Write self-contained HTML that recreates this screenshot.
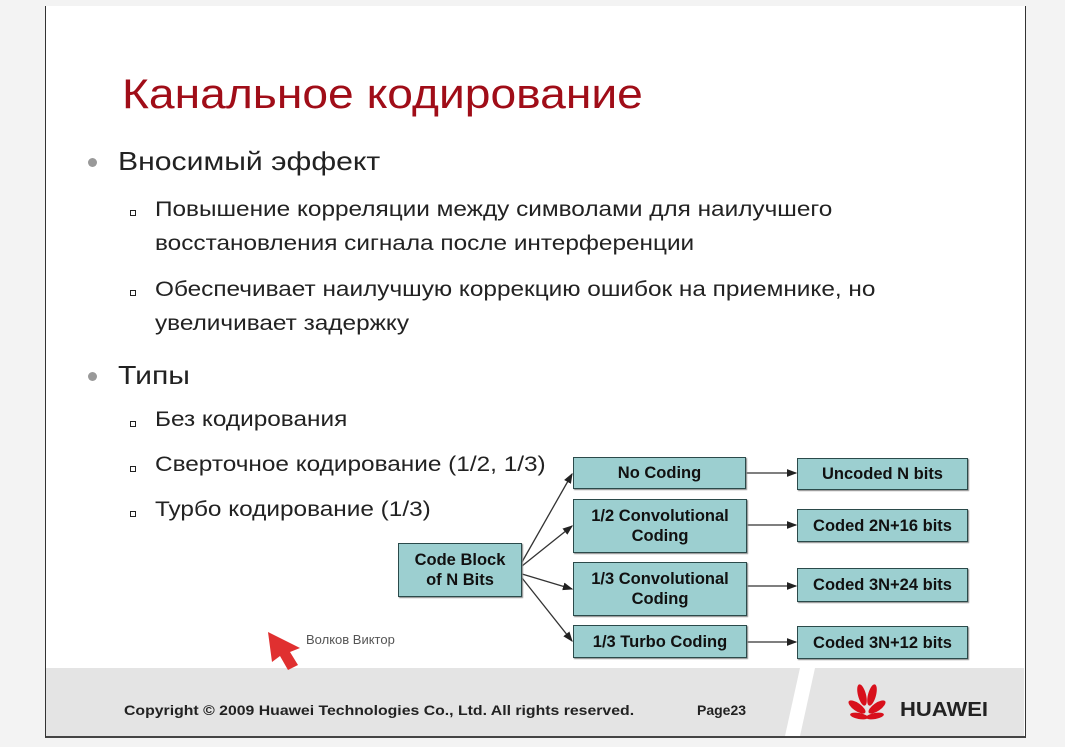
<!DOCTYPE html>
<html><head><meta charset="utf-8"><style>
body{margin:0;width:1065px;height:747px;background:#f3f3f3;position:relative;overflow:hidden;font-family:"Liberation Sans",sans-serif}
.slide{position:absolute;left:45px;top:6px;width:979px;height:730px;background:#fff;border-left:1px solid #333;border-right:1px solid #333;border-bottom:2px solid #444}
.foot{position:absolute;left:46px;top:668px;width:978px;height:68px;background:#e4e4e4}
.t{position:absolute;white-space:nowrap;color:#222;transform-origin:left top}
.s{transform:scaleX(1.16)}
.b{position:absolute;width:6px;height:6px;border:1.5px solid #222;box-sizing:border-box}
.dot{position:absolute;width:9px;height:9px;border-radius:50%;background:#999}
.box{position:absolute;background:#9ccfd0;border:1.5px solid #2b4a4a;box-sizing:border-box;display:flex;align-items:center;justify-content:center;text-align:center;font-weight:bold;font-size:16.5px;line-height:20px;color:#111;box-shadow:1px 1px 1px #888}
</style></head><body>
<div class="slide"></div>
<div class="foot"></div>
<svg style="position:absolute;left:0;top:0" width="1065" height="747">
<polygon points="800,668 815,668 800,736 785,736" fill="#fff"/>
<defs><marker id="a" markerWidth="8" markerHeight="8" refX="7" refY="4" orient="auto"><path d="M0,1 L8,4 L0,7z" fill="#222"/></marker></defs>
<g stroke="#333" stroke-width="1.3" fill="none" marker-end="url(#a)">
<line x1="522" y1="562" x2="572" y2="474"/>
<line x1="522" y1="566" x2="572" y2="526"/>
<line x1="522" y1="574" x2="572" y2="589"/>
<line x1="522" y1="578" x2="572" y2="641"/>
<line x1="746" y1="473" x2="796" y2="473"/>
<line x1="746" y1="525" x2="796" y2="525"/>
<line x1="746" y1="586" x2="796" y2="586"/>
<line x1="746" y1="642" x2="796" y2="642"/>
</g>
<polygon points="268,632 300,648 290,652 298,665 288,670 280,656 272,662" fill="#e03030"/>
<g fill="#d8101c"><ellipse cx="862" cy="695" rx="4" ry="11" transform="rotate(-15 862 695)"/><ellipse cx="872" cy="695" rx="4" ry="11" transform="rotate(15 872 695)"/><ellipse cx="857" cy="707" rx="4" ry="10" transform="rotate(-55 857 707)"/><ellipse cx="877" cy="707" rx="4" ry="10" transform="rotate(55 877 707)"/><ellipse cx="859" cy="716" rx="3" ry="9" transform="rotate(-80 859 716)"/><ellipse cx="875" cy="716" rx="3" ry="9" transform="rotate(80 875 716)"/></g>
</svg>
<div class="t" style="left:122px;top:70px;font-size:42px;color:#a00d18;transform:scaleX(1.1)">Канальное кодирование</div>
<div class="dot" style="left:88px;top:158px"></div>
<div class="t s" style="left:118px;top:146px;font-size:26px">Вносимый эффект</div>
<div class="b" style="left:130px;top:210px"></div>
<div class="t s" style="left:155px;top:193px;font-size:21px;line-height:34px">Повышение корреляции между символами для наилучшего<br>восстановления сигнала после интерференции</div>
<div class="b" style="left:130px;top:290px"></div>
<div class="t s" style="left:155px;top:273px;font-size:21px;line-height:34px">Обеспечивает наилучшую коррекцию ошибок на приемнике, но<br>увеличивает задержку</div>
<div class="dot" style="left:88px;top:372px"></div>
<div class="t s" style="left:118px;top:360px;font-size:26px">Типы</div>
<div class="b" style="left:130px;top:421px"></div>
<div class="t s" style="left:155px;top:408px;font-size:21px">Без кодирования</div>
<div class="b" style="left:130px;top:466px"></div>
<div class="t s" style="left:155px;top:453px;font-size:21px">Сверточное кодирование (1/2, 1/3)</div>
<div class="b" style="left:130px;top:511px"></div>
<div class="t s" style="left:155px;top:498px;font-size:21px">Турбо кодирование (1/3)</div>
<div class="box" style="left:398px;top:543px;width:124px;height:54px">Code Block<br>of N Bits</div>
<div class="box" style="left:573px;top:457px;width:173px;height:32px">No Coding</div>
<div class="box" style="left:573px;top:499px;width:174px;height:54px">1/2 Convolutional<br>Coding</div>
<div class="box" style="left:573px;top:562px;width:174px;height:54px">1/3 Convolutional<br>Coding</div>
<div class="box" style="left:573px;top:625px;width:174px;height:33px">1/3 Turbo Coding</div>
<div class="box" style="left:797px;top:458px;width:171px;height:32px">Uncoded N bits</div>
<div class="box" style="left:797px;top:509px;width:171px;height:33px">Coded 2N+16 bits</div>
<div class="box" style="left:797px;top:568px;width:171px;height:34px">Coded 3N+24 bits</div>
<div class="box" style="left:797px;top:626px;width:171px;height:33px">Coded 3N+12 bits</div>
<div class="t" style="left:306px;top:632px;font-size:13px;color:#555">Волков Виктор</div>
<div class="t" style="left:124px;top:702px;font-size:14px;font-weight:bold;transform:scaleX(1.13)">Copyright © 2009 Huawei Technologies Co., Ltd. All rights reserved.</div>
<div class="t" style="left:697px;top:702px;font-size:14px;font-weight:bold">Page23</div>
<div class="t" style="left:900px;top:699px;font-size:20px;font-weight:bold;color:#222;transform:scaleX(1.1)">HUAWEI</div>
</body></html>
